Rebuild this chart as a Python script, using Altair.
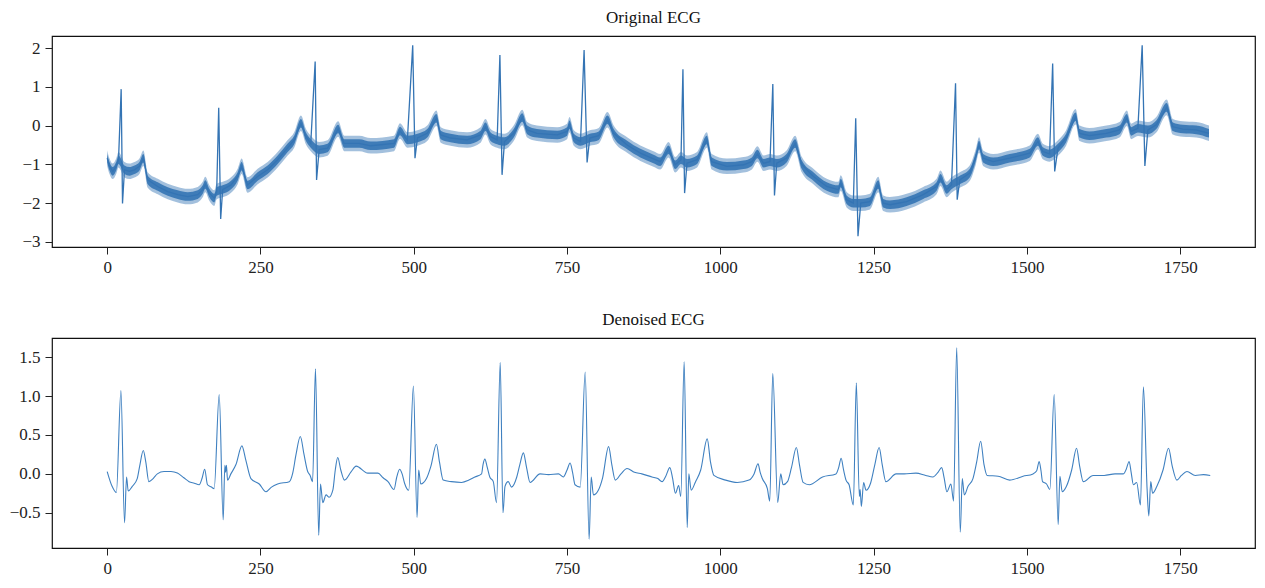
import altair as alt
import pandas as pd

# ---------------- data ----------------
TICKS_X = [0, 250, 500, 750, 1000, 1250, 1500, 1750]
TICKS_Y_TOP = [-3, -2, -1, 0, 1, 2]
TICKS_Y_BOT = [-0.5, 0.0, 0.5, 1.0, 1.5]

# Original ECG: baseline (wander, P/T waves) points
BASE_X = [0, 3.8, 9.2, 14.7, 18.5, 28.2, 36.3, 44.5, 52.6, 59, 66.2, 82.5, 98.8, 115,
          131.4, 147.7, 155.8, 160, 166.6, 174.7, 178.6, 188.3, 202, 212.8, 219.3, 229,
          245.4, 261.7, 278, 294, 305, 316, 324, 332, 345.7, 359.4, 376.7, 386.5, 411,
          430, 467.8, 477.6, 489.6, 506, 522, 537, 544, 560, 587, 609, 617, 625, 636,
          648, 663, 677, 685, 701, 734, 750, 754, 761, 772, 787, 801.7, 816, 826, 848,
          869.6, 891, 902, 915.7, 926.5, 935.8, 945.6, 962, 978, 986, 1010.7, 1037.8,
          1051.4, 1060.6, 1070.4, 1081, 1092, 1108, 1122, 1133, 1151.8, 1173.6, 1192.5,
          1196.4, 1206, 1216.9, 1229, 1244, 1257.6, 1265.7, 1276.7, 1303.8, 1330.9,
          1352.7, 1359, 1369, 1377, 1390.6, 1407, 1416.7, 1422, 1428.6, 1444.9, 1472,
          1504.6, 1518, 1526, 1537, 1550.7, 1564, 1579.5, 1586, 1602, 1629.5, 1651, 1663,
          1670, 1681, 1697.3, 1711, 1728, 1738, 1754, 1776, 1797]
BASE_Y = [-0.84, -1.05, -1.18, -1.05, -0.88, -1.14, -1.18, -1.14, -1.05, -0.84, -1.40,
          -1.57, -1.70, -1.78, -1.83, -1.78, -1.65, -1.52, -1.74, -1.87, -1.70, -1.65,
          -1.53, -1.31, -1.05, -1.53, -1.31, -1.14, -0.88, -0.58, -0.37, 0.06, -0.28,
          -0.46, -0.62, -0.58, -0.09, -0.46, -0.46, -0.52, -0.46, -0.14, -0.37, -0.32,
          -0.20, 0.19, -0.24, -0.32, -0.37, -0.24, -0.03, -0.28, -0.37, -0.41, -0.20,
          0.21, -0.11, -0.20, -0.24, -0.15, 0.02, -0.32, -0.41, -0.32, -0.26, 0.15,
          -0.20, -0.50, -0.71, -0.86, -0.93, -0.62, -1.01, -0.88, -0.97, -0.88, -0.37,
          -0.93, -1.05, -1.01, -0.93, -0.73, -0.97, -0.93, -0.97, -0.84, -0.46, -1.01,
          -1.31, -1.57, -1.65, -1.48, -1.91, -2.00, -2.00, -1.96, -1.52, -2.00, -2.04,
          -1.96, -1.78, -1.57, -1.36, -1.65, -1.53, -1.40, -1.22, -0.80, -0.50, -0.84,
          -0.93, -0.84, -0.71, -0.41, -0.67, -0.73, -0.58, -0.32, 0.23, -0.20, -0.26,
          -0.20, -0.11, 0.19, -0.15, -0.07, -0.11, 0.02, 0.47, -0.03, -0.09, -0.11, -0.20]

# Original ECG: R peaks and S troughs
SPIKE_X = [22.8, 25, 181.9, 185.1, 339.2, 341.5, 498.3, 502, 640.5, 644, 777.8, 782.7,
           939, 941.7, 1085.6, 1088.3, 1220.8, 1224.5, 1383.6, 1386.3, 1542, 1545.3,
           1688, 1692.4]
SPIKE_Y = [0.94, -2.01, 0.46, -2.41, 1.65, -1.40, 2.07, -0.84, 1.82, -1.27, 1.95, -0.95,
           1.45, -1.74, 1.07, -1.80, 0.19, -2.85, 1.09, -1.91, 1.60, -1.18, 2.07, -1.04]

# half-height of the high-frequency noise band seen around the baseline
NOISE_INNER = 0.11
NOISE_OUTER = 0.20

# Denoised ECG
DEN_X = [0, 8, 15, 22.4, 28.3, 31.6, 34.3, 40.9, 49, 53, 58.9, 63, 68, 75, 81.8, 92.7,
         104, 114.5, 125, 133.6, 142, 150, 155, 159, 163.6, 170, 174.5, 182.7, 189.2,
         191.9, 193, 194.5, 196.3, 201.7, 210, 219.7, 226, 234.4, 248, 259, 268, 278,
         297, 302.6, 308, 315, 321, 327, 331, 335, 339.7, 345, 347.9, 351.6, 357, 362,
         368, 372, 376, 381, 387, 398, 406, 425, 441.6, 450, 458, 467.8, 472, 477, 481,
         485, 491.8, 499.4, 505.4, 508, 511.4, 520.7, 528, 537, 542, 548, 561.5, 578,
         590, 599.7, 610.6, 613, 616, 620, 624, 629.7, 635, 641, 645.5, 648.8, 654,
         659.5, 668, 673, 678.8, 684, 689.7, 706, 719.7, 736, 744, 750, 755, 759, 763,
         771.5, 779.6, 786, 789.4, 793, 801, 808, 817.8, 823, 828.7, 838, 847.8, 860,
         872, 888.6, 898, 905, 911, 917.6, 922, 926.8, 932, 935.5, 941, 946, 948.6,
         952.4, 959.6, 968, 978.6, 984, 989.5, 1008.6, 1027.6, 1046.8, 1055, 1061.5,
         1065, 1068.5, 1076.7, 1080.6, 1085.5, 1093.6, 1098.5, 1102.4, 1109.5, 1116,
         1124, 1129, 1135, 1145, 1166.7, 1188.6, 1193, 1197, 1201, 1205, 1210, 1216.9,
         1221.8, 1226.7, 1228, 1230, 1233.7, 1237.6, 1245, 1252, 1259, 1264, 1270,
         1286.7, 1300, 1319, 1335, 1346.6, 1355, 1361, 1365, 1369.5, 1376, 1380.4,
         1385.5, 1391.3, 1394.6, 1397.9, 1404, 1412, 1418, 1424.6, 1430, 1435, 1453,
         1472, 1493.8, 1510, 1516, 1520, 1523, 1525.5, 1532, 1537.4, 1544.5, 1551,
         1553.8, 1557.6, 1564.5, 1573, 1581, 1586, 1592, 1608, 1626, 1643.7, 1657.4,
         1662, 1666.7, 1670, 1673.7, 1679, 1685.2, 1690, 1696, 1698.8, 1702, 1705, 1712,
         1722, 1731, 1737, 1744.6, 1752, 1761, 1774.6, 1788, 1799]
DEN_Y = [0.03, -0.16, -0.24, 1.07, -0.63, -0.04, -0.22, -0.16, -0.06, 0.10, 0.30, 0.15,
         -0.10, -0.06, 0.0, 0.03, 0.03, 0.01, -0.05, -0.10, -0.12, -0.14, -0.05, 0.06,
         -0.14, -0.17, -0.19, 1.02, -0.59, 0.11, 0.02, 0.11, -0.08, 0.0, 0.12, 0.36,
         0.18, -0.06, -0.13, -0.23, -0.17, -0.13, -0.10, 0.01, 0.25, 0.48, 0.25, 0.03,
         -0.02, -0.10, 1.35, -0.79, -0.13, -0.37, -0.27, -0.30, -0.21, 0.05, 0.21, 0.05,
         -0.08, 0.03, 0.10, 0.01, 0.01, -0.05, -0.10, -0.20, -0.05, 0.06, 0.0, -0.12,
         -0.21, 1.13, -0.56, 0.05, -0.13, -0.06, 0.10, 0.38, 0.15, -0.08, -0.10, -0.11,
         -0.08, -0.04, 0.0, 0.12, 0.19, 0.08, -0.04, -0.10, -0.37, 1.43, -0.50, -0.16,
         -0.10, -0.17, -0.04, 0.12, 0.27, 0.08, -0.11, 0.0, -0.01, 0.0, -0.04, 0.05,
         0.14, 0.02, -0.14, -0.17, 1.31, -0.84, -0.04, -0.27, -0.21, -0.05, 0.35, 0.12,
         -0.08, 0.0, 0.07, 0.02, 0.0, -0.04, -0.06, -0.10, -0.03, 0.08, -0.05, -0.25,
         -0.15, -0.29, 1.44, -0.69, 0.0, -0.21, -0.10, 0.05, 0.45, 0.15, -0.02, -0.08,
         -0.11, -0.08, 0.0, 0.13, 0.02, -0.06, -0.19, -0.35, 1.29, -0.37, 0.0, -0.14,
         -0.10, 0.08, 0.34, 0.12, -0.11, -0.14, -0.04, 0.0, 0.08, 0.20, 0.05, -0.08,
         -0.14, -0.40, 1.17, -0.29, -0.20, -0.42, -0.11, -0.21, -0.12, 0.12, 0.34, 0.12,
         -0.10, 0.0, 0.0, 0.01, -0.02, -0.04, 0.02, 0.08, -0.05, -0.23, -0.13, -0.35,
         1.62, -0.75, -0.06, -0.27, -0.16, -0.06, 0.15, 0.42, 0.12, -0.02, -0.03, -0.08,
         -0.03, 0.0, 0.04, 0.16, 0.04, -0.10, -0.13, -0.20, 1.02, -0.65, -0.03, -0.23,
         -0.16, 0.05, 0.33, 0.10, -0.10, -0.02, -0.02, 0.0, 0.0, 0.06, 0.16, 0.02,
         -0.14, -0.11, -0.40, 1.12, -0.19, -0.54, -0.10, -0.25, -0.16, 0.05, 0.33, 0.10,
         -0.08, -0.02, 0.03, -0.02, -0.01, -0.02]

# ---------------- tables ----------------
base = pd.DataFrame({"x": BASE_X, "y": BASE_Y})
orig = pd.concat([base, pd.DataFrame({"x": SPIKE_X, "y": SPIKE_Y})]).sort_values("x")
den = pd.DataFrame({"x": DEN_X, "y": DEN_Y})

FONT = "Liberation Serif"
BLUE = "#3474b4"
W = 1203

xs = alt.Scale(domain=[-90, 1872], nice=False, zero=False)
xax = alt.Axis(values=TICKS_X, format="d", title=None)

ys_top = alt.Scale(domain=[-3.13, 2.31], nice=False, zero=False)
yax_top = alt.Axis(values=TICKS_Y_TOP, format="d", title=None)
ys_bot = alt.Scale(domain=[-0.953, 1.747], nice=False, zero=False)
yax_bot = alt.Axis(values=TICKS_Y_BOT, format=".1f", title=None)

outer = alt.Chart(base).transform_calculate(
    lo=f"datum.y - {NOISE_OUTER}", hi=f"datum.y + {NOISE_OUTER}"
).mark_area(color=BLUE, opacity=0.45, clip=True, interpolate="monotone").encode(
    x=alt.X("x:Q", scale=xs, axis=xax),
    y=alt.Y("lo:Q", scale=ys_top, axis=yax_top),
    y2="hi:Q",
)
inner = alt.Chart(base).transform_calculate(
    lo=f"datum.y - {NOISE_INNER}", hi=f"datum.y + {NOISE_INNER}"
).mark_area(color=BLUE, opacity=0.9, clip=True, interpolate="monotone").encode(
    x=alt.X("x:Q", scale=xs, axis=xax),
    y=alt.Y("lo:Q", scale=ys_top, axis=yax_top),
    y2="hi:Q",
)
orig_line = alt.Chart(orig).mark_line(color=BLUE, strokeWidth=1.3, clip=True).encode(
    x=alt.X("x:Q", scale=xs, axis=xax),
    y=alt.Y("y:Q", scale=ys_top, axis=yax_top),
)

top = alt.layer(outer, inner, orig_line).properties(
    width=W, height=211,
    title=alt.TitleParams("Original ECG", anchor="middle"),
)

bottom = alt.Chart(den).mark_line(
    color="#3f80c0", strokeWidth=1.1, clip=True, interpolate="monotone"
).encode(
    x=alt.X("x:Q", scale=xs, axis=xax),
    y=alt.Y("y:Q", scale=ys_bot, axis=yax_bot),
).properties(
    width=W, height=210,
    title=alt.TitleParams("Denoised ECG", anchor="middle"),
)

chart = alt.vconcat(top, bottom, spacing=34).resolve_scale(y="independent").properties(
    padding={"left": 0, "top": 0, "right": 0, "bottom": 0}
).configure_view(
    stroke="#111", strokeWidth=1.2
).configure_axis(
    labelFont=FONT, labelFontSize=17, labelColor="#222",
    tickColor="#222", tickSize=7, tickWidth=1, labelPadding=5,
    domain=False, grid=False,
).configure_title(
    font=FONT, fontSize=17, fontWeight="normal", color="#111", offset=9,
)

chart.save("out.html", embed_options={"renderer": "svg", "actions": False})
